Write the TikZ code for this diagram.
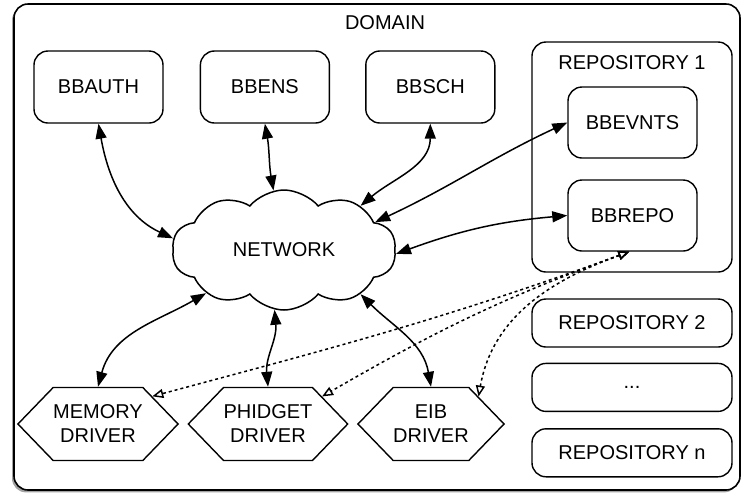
\documentclass[tikz,border=0pt]{standalone}
\usepackage{fontspec}
\setmainfont{Liberation Sans}
\usetikzlibrary{arrows.meta,positioning,shapes.symbols,shadows}

\begin{document}
\begin{tikzpicture}[
			x=0.5pt, y=0.5pt,
			font=\fontsize{10}{12}\selectfont,
			node distance=8pt,
			compbox/.style={
				rectangle,
				rounded corners=7pt,
				draw=black,
				line width=0.7pt,
				fill=white,
				minimum width=64.5pt,
				minimum height=36pt,
				align=center
			},
			repobox/.style={
				compbox,
				minimum width=100pt,
				minimum height=24pt
			},
			drvnode/.style={
				signal,
				signal to=west and east,
				signal pointer angle=92,
				draw=black,
				line width=0.7pt,
				fill=white,
				minimum width=70pt,
				minimum height=36.5pt,
				inner sep=0pt,
				align=center
			},
			link/.style={
				{Triangle[length=7.5pt,width=5.5pt]}-{Triangle[length=7.5pt,width=5.5pt]},
				line width=0.75pt
			},
			drvlink/.style={
				{Triangle[open,length=5.5pt,width=4.5pt]}-{Triangle[open,length=5.5pt,width=4.5pt]},
				line width=0.75pt,
				dash pattern=on 1.5pt off 1.5pt
			}
			]
			\useasboundingbox (0,0) rectangle (745,-494);
			\node[draw=black, line width=0.8pt, rounded corners=7pt, fill=white,
				minimum width=363pt, minimum height=243pt,
				drop shadow={shadow xshift=-1pt, shadow yshift=-1.2pt, fill=black!60, opacity=0.6}]
				(domain) at (377,-247) {};
			\node (domaintitle) at (385,-23) {DOMAIN};
			
			\node[compbox] (bbauth) at (98.5,-87) {BBAUTH};
			\node[compbox, right=18pt of bbauth] (bbens) {BBENS};
			\node[compbox, right=17.5pt of bbens] (bbsch) {BBSCH};
			
			\node[repobox, minimum height=115pt] (repo1) at (632,-157) {};
			\node (repo1title) at (632,-63) {REPOSITORY 1};
			\node[compbox, minimum height=35.5pt] (bbevnts) at (632.5,-122.5) {BBEVNTS};
			\node[compbox, minimum height=35.5pt] (bbrepo) at (632.5,-215.5) {BBREPO};
			\node[repobox] (repo2) at (632,-323) {REPOSITORY 2};
			\node[repobox, below=7.5pt of repo2] (repodots) {...};
			\node[repobox, below=8pt of repodots] (repon) {REPOSITORY n};
			
			\node[cloud, cloud puffs=10, cloud puff arc=100, aspect=1.85, draw=black,
				line width=0.75pt, fill=white, minimum width=112pt, minimum height=60pt]
				(net) at (284,-250) {NETWORK};
			
			\node[drvnode] (memory) at (98,-424) {MEMORY\\DRIVER};
			\node[drvnode] (phidget) at (268,-424) {PHIDGET\\DRIVER};
			\node[drvnode] (eib) at (431,-424) {EIB\\DRIVER};
			
			\draw[link] (bbauth.south) to[out=-80, in=155] (net.174);
			\draw[link] (bbens.south) to[out=-80, in=100] (net.100);
			\draw[link] (bbsch.south) to[out=-90, in=40] (net.30);
			\draw[link] (bbevnts.west) to[out=205, in=25] (net.17);
			\draw[link] (bbrepo.west) to[out=185, in=20] (net.-2);
			\draw[link] (net.-151) to[out=210, in=75] (memory.north);
			\draw[link] (net.-99) to[out=-85, in=95] (phidget.north);
			\draw[link] (net.-30) to[out=-45, in=100] (eib.north);
			
			\draw[drvlink] (bbrepo.265) to[out=200, in=15] (memory.27);
			\draw[drvlink] (bbrepo.265) to[out=200, in=30] (phidget.27);
			\draw[drvlink] (bbrepo.265) to[out=200, in=80] (eib.30);
		\end{tikzpicture}
\end{document}
